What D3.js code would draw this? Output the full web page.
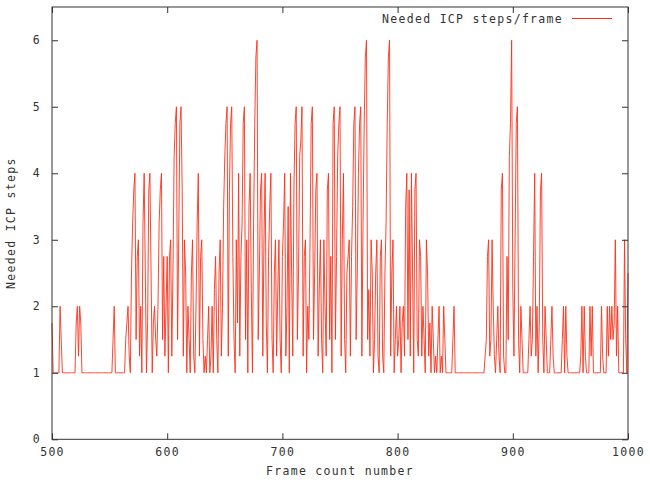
<!DOCTYPE html>
<html><head><meta charset="utf-8">
<script src="https://cdn.jsdelivr.net/npm/d3@7"></script>
<style>
html,body{margin:0;padding:0;background:#fff;}
text{font-family:"DejaVu Sans Mono","Liberation Mono",monospace;font-size:11.5px;fill:#333;letter-spacing:1.3px;}
</style></head><body>
<svg id="chart" width="650" height="483"></svg>
<script>
const startFrame = 500;
const steps = [
1.75,1,1,1,1,1,1,2,1.5,1, 1,1,1,1,1,1,1,1,1,1,
1,1.75,2,1.25,2,1.75,1,1,1,1, 1,1,1,1,1,1,1,1,1,1,
1,1,1,1,1,1,1,1,1,1, 1,1,1,1.5,2,1,1,1,1,1,
1,1,1,1,1.5,1.75,2,1.25,1,2.5, 3.25,3.75,4,1.5,2.75,3,1.25,2,1,3.25,
4,2.5,1,1.75,3.75,4,2.5,1,1.75,2, 1.5,1.25,2,3.25,3.75,4,1.5,2.75,1.25,2,
2.75,1,2.75,3,1.25,2.5,4.25,4.75,5,1.5, 3,4.75,5,3.75,1.25,3,2.5,1,2,1.5,
1,2.5,3,1.25,1,2,3.25,4,1.25,2.75, 3,1.5,1,1.25,1,1.5,2,1,1.25,2,
1,2.25,2.75,1.5,1,2.5,3,1.25,2,3.5, 4.25,4.75,5,1.25,3.75,4.75,5,2.75,1.5,1,
3,1.75,4,1.25,2.75,3.25,4.75,5,1.5,3, 1,3.5,4,2.25,1,3.25,4.75,5.75,6,1.5,
2.5,3.75,4,1.25,3,4,1.75,1,2.75,3.5, 4,1.5,1,2.5,3,1.25,2.25,3,1.5,1,
2.75,3.25,4,1.25,2,3.5,1,4,2.5,1.25, 3.75,4.75,5,1.5,2.5,4.25,4.5,5,1.25,2.75,
3,1,2,1.5,3,4.75,5,1.5,2.5,3.75, 4,1.25,2.25,3,1.5,1,3,2,1.25,3.75,
4,1.5,2.75,1,4.75,5,1.5,2.75,4.25,4.75, 5,1.25,3,4,1.5,1,2.5,2.75,3,1.25,
2.75,3.5,4.75,5,1.5,2.5,4,4.75,5,1.25, 3.25,4.75,5.75,6,1.5,2.25,1.25,3,2.5,1,
1.5,2.5,3,1.25,1,2.75,3,1.25,1,2.5, 3.25,4.75,5.75,6,1.25,2.5,3,1,1.5,2,
1.25,1.5,2,1,1.75,2,1.25,3.5,4,1.5, 3.75,1.25,4,2.5,1,3.75,4,1.5,1.25,3,
2.75,1.25,2,1.5,1,3,2.5,1.25,1.75,1, 2,1.5,1,1.25,1,1.5,2,1,1.25,1,
2,1.5,1,1,1,1,1,1,1.5,2, 1,1,1,1,1,1,1,1,1,1,
1,1,1,1,1,1,1,1,1,1, 1,1,1,1,1,1,1.25,1.5,2.75,3,
1.25,1.5,3,2,1.25,1,1.5,2,1.25,1, 3.75,4,1.25,1,1,2.75,1.5,4.25,4.75,6,
2.25,1.25,3,4.75,5,1.5,1,2,1.5,1, 1,1,1,1,1.5,2,1.25,1.5,2.75,4,
1.25,2,1,1.75,3.75,4,1.5,1,2,1.5, 1,1,1,1.5,2,1.25,1,1,1,1,
1,1,1,1.5,2,1,2,1.25,1,1, 1,1,1,1,1,1,1,1,1,1.25,
2,1,2,1.25,1,1,1,2,1.25,2, 1,1,1,1,1,1,1,2,1.25,1,
1,1,2,1.25,2,1.5,2,1.5,1.75,3, 1.25,2,1,1,1,1,1,3,1.5,1,
2.5
];
const xTicks = [500,600,700,800,900,1000];
const yTicks = [0,1,2,3,4,5,6];
const legendLabel = "Needed ICP steps/frame";
const xTitle = "Frame count number";
const yTitle = "Needed ICP steps";

const data = steps.map((v,i)=>({f:startFrame+i, v}));
const svg = d3.select("#chart");
const L=52, R=628, T=7, B=439.3;
const x = d3.scaleLinear().domain([500,1000]).range([L,R]);
const y = d3.scaleLinear().domain([0,6.5]).range([B,T]);
const axisColor = "#333";
const lineColor = "#ff3018";

// data line
svg.append("path").datum(data)
  .attr("fill","none").attr("stroke",lineColor).attr("stroke-width",0.9)
  .attr("d", d3.line().x(d=>x(d.f)).y(d=>y(d.v)));

// frame
svg.append("rect").attr("x",L).attr("y",T).attr("width",R-L).attr("height",B-T)
  .attr("fill","none").attr("stroke",axisColor).attr("stroke-width",1);

const tl = 6;
const axBottom = d3.axisBottom(x).tickValues(xTicks).tickSize(-tl).tickPadding(tl+3).tickFormat(d3.format("d"));
const axTop = d3.axisTop(x).tickValues(xTicks).tickSize(-tl).tickFormat("");
const axLeft = d3.axisLeft(y).tickValues(yTicks).tickSize(-tl).tickPadding(tl+5).tickFormat(d3.format("d"));
const axRight = d3.axisRight(y).tickValues(yTicks).tickSize(-tl).tickFormat("");
function styleAxis(g){ g.select(".domain").remove(); g.selectAll("line").attr("stroke",axisColor);
  g.selectAll("text").attr("font-family",null).attr("font-size",null).attr("fill",null); }
svg.append("g").attr("transform",`translate(0,${B})`).call(axBottom).call(styleAxis);
svg.append("g").attr("transform",`translate(0,${T})`).call(axTop).call(styleAxis);
svg.append("g").attr("transform",`translate(${L},0)`).call(axLeft).call(styleAxis);
svg.append("g").attr("transform",`translate(${R},0)`).call(axRight).call(styleAxis);

// titles
svg.append("text").attr("x",(L+R)/2).attr("y",475).attr("text-anchor","middle").text(xTitle);
svg.append("text").attr("transform",`translate(15,${(T+B)/2}) rotate(-90)`).attr("text-anchor","middle").text(yTitle);

// legend
svg.append("text").attr("x",563).attr("y",23).attr("text-anchor","end").text(legendLabel);
svg.append("line").attr("x1",572).attr("x2",612).attr("y1",18.5).attr("y2",18.5)
  .attr("stroke",lineColor).attr("stroke-width",1);
</script></body></html>
